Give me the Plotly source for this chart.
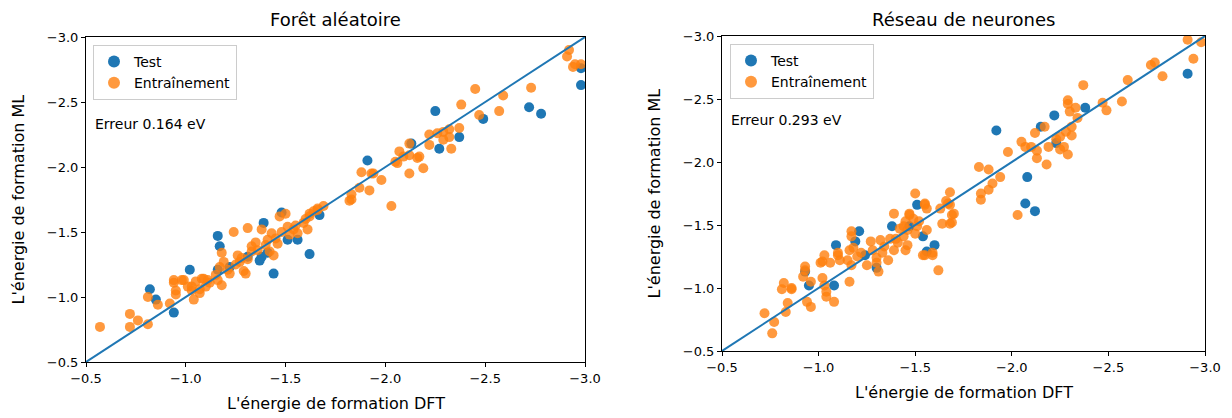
import plotly.graph_objects as go

# ---------------- data ----------------
rf_test_dft = [-2.25, -2.49, -2.72, -2.78, -2.98, -2.98, -2.37, -2.27, -2.13, -1.91, -1.48, -1.39, -1.16, -1.17,
               -1.62, -1.44, -1.02, -0.82, -0.94, -1.38, -1.51, -1.56, -1.16, -1.37, -0.85, -1.67, -1.22, -1.31, -1.41]
rf_test_ml = [-2.43, -2.37, -2.46, -2.41, -2.76, -2.63, -2.23, -2.14, -2.18, -2.05, -1.65, -1.57, -1.47, -1.39,
              -1.33, -1.18, -1.21, -1.06, -0.88, -1.31, -1.44, -1.44, -1.21, -1.28, -0.98, -1.63, -1.23, -1.31, -1.34]

rf_train_dft = [-0.57, -0.72, -0.72, -0.76, -0.81, -0.81, -0.86, -0.92, -0.94, -0.95, -0.98, -1.01, -1.04, -1.03,
                -1.07, -1.08, -1.11, -1.16, -1.18, -1.17, -1.19, -1.18, -1.21, -1.24, -1.26, -1.29, -1.31, -1.27,
                -1.31, -1.33, -1.36, -1.38, -1.41, -1.43, -1.46, -1.47, -1.50, -1.51, -1.54, -1.56, -1.59, -1.61,
                -1.64, -1.66, -1.69, -1.62, -1.44,
                -2.12, -2.07, -2.12, -2.16, -2.06, -2.12, -1.88, -1.93, -1.98, -1.92, -1.87, -1.83, -1.82, -2.03,
                -1.66, -1.62, -1.30, -0.94, -0.99, -1.09, -1.12, -1.03, -1.07, -0.95,
                -2.45, -2.73, -2.59, -2.38, -2.57, -2.47, -2.92, -2.91, -2.95, -2.98, -2.94, -2.37, -2.32, -2.29,
                -2.26, -2.22, -2.32, -2.29, -2.22, -2.33, -2.09, -2.17, -2.19, -2.05, -1.94, -1.83,
                -1.35, -1.40, -1.45, -1.48, -1.52, -1.33, -1.28, -1.25, -1.22, -1.42, -1.55, -1.60, -1.15, -1.10, -1.05]
rf_train_ml = [-0.77, -0.87, -0.77, -0.82, -0.79, -1.00, -0.94, -0.95, -1.13, -1.02, -1.13, -1.08, -0.98, -1.05,
               -1.03, -1.14, -1.13, -1.13, -1.09, -1.23, -1.27, -1.34, -1.21, -1.50, -1.32, -1.20, -1.53, -1.27,
               -1.29, -1.39, -1.36, -1.52, -1.44, -1.49, -1.41, -1.62, -1.64, -1.54, -1.52, -1.49, -1.57, -1.52,
               -1.66, -1.68, -1.70, -1.62, -1.32,
               -2.18, -2.12, -2.09, -2.07, -2.03, -1.95, -1.96, -1.95, -1.90, -1.82, -1.84, -1.79, -1.74, -1.70,
               -1.67, -1.64, -1.18, -1.11, -1.13, -1.14, -1.11, -1.08, -1.06, -1.05,
               -2.60, -2.61, -2.55, -2.48, -2.43, -2.40, -2.90, -2.85, -2.79, -2.79, -2.77, -2.30, -2.29, -2.27,
               -2.26, -2.25, -2.23, -2.21, -2.17, -2.14, -2.08, -2.08, -1.99, -2.04, -1.95, -1.75,
               -1.42, -1.40, -1.45, -1.50, -1.48, -1.35, -1.30, -1.25, -1.18, -1.35, -1.55, -1.60, -1.17, -1.08, -1.12]

nn_test_dft = [-1.92, -2.22, -2.15, -2.38, -2.91, -2.08, -2.23, -2.07, -2.12, -1.51, -1.38, -1.54, -1.60, -1.56,
               -1.21, -1.19, -1.09, -1.24, -0.93, -0.95, -1.08, -1.30, -1.47]
nn_test_ml = [-2.25, -2.37, -2.28, -2.43, -2.70, -1.88, -2.15, -1.67, -1.61, -1.66, -1.49, -1.41, -1.34, -1.29,
              -1.45, -1.37, -1.34, -1.26, -1.13, -1.02, -1.02, -1.16, -1.49]

nn_train_dft = [-2.91, -2.98, -2.94, -2.72, -2.74, -2.78, -2.60, -2.37, -2.57, -2.49, -2.47, -2.29, -2.29, -2.30,
                -2.33, -2.34, -2.31, -2.28, -2.31, -2.25, -2.23, -2.27, -2.29, -2.25, -2.19, -2.17, -2.12, -2.05,
                -2.07, -2.10, -2.13, -2.13, -2.18, -1.98, -1.83, -1.88, -1.94, -1.90, -1.88, -1.84, -1.84, -2.03,
                -1.50, -1.68,
                -1.55, -1.56, -1.66, -1.68, -1.70, -1.64, -1.69, -1.39, -1.47, -1.49, -1.45, -1.51, -1.46, -1.50,
                -1.42, -1.44, -1.41, -1.37, -1.39, -1.34, -1.32, -1.33, -1.30, -1.36, -1.45, -1.28, -1.27, -1.22,
                -1.25, -1.31, -1.30, -1.18, -1.17, -1.17, -1.15, -1.10, -1.11, -1.06, -1.02, -1.01, -1.03, -0.93,
                -0.92, -0.96, -1.02, -1.16, -1.62, -1.55, -1.59, -0.86, -1.04,
                -0.72, -0.77, -0.76, -0.83, -0.82, -0.81, -0.86, -0.84, -0.94, -0.96, -0.93, -1.03, -1.04, -1.08,
                -1.10, -1.16, -1.20, -1.17, -1.40, -1.46, -1.44, -1.47, -1.52, -1.55, -1.56, -1.68, -1.69, -1.67,
                -1.63, -1.54, -1.59]
nn_train_ml = [-2.97, -2.95, -2.82, -2.77, -2.79, -2.68, -2.65, -2.61, -2.48, -2.41, -2.47, -2.49, -2.46, -2.40,
               -2.43, -2.35, -2.28, -2.24, -2.21, -2.20, -2.18, -2.12, -2.06, -2.10, -2.12, -2.28, -2.23, -2.16,
               -2.12, -2.12, -2.09, -2.03, -1.98, -2.08, -1.96, -1.94, -1.88, -1.83, -1.78, -1.75, -1.70, -1.58,
               -1.75, -1.76,
               -1.67, -1.63, -1.69, -1.66, -1.59, -1.51, -1.52, -1.59, -1.59, -1.55, -1.53, -1.49, -1.46, -1.43,
               -1.47, -1.41, -1.36, -1.39, -1.30, -1.33, -1.38, -1.28, -1.24, -1.22, -1.30, -1.30, -1.37, -1.28,
               -1.18, -1.13, -1.20, -1.32, -1.41, -1.45, -1.22, -1.28, -1.22, -1.20, -1.21, -1.20, -1.26, -1.17,
               -1.09, -1.05, -1.08, -1.05, -1.14, -1.26, -1.28, -1.00, -0.97,
               -0.80, -0.73, -0.64, -0.81, -1.04, -0.99, -0.99, -0.88, -0.89, -0.85, -1.14, -1.02, -0.93, -0.89,
               -1.26, -1.30, -1.25, -1.18, -1.39, -1.34, -1.49, -1.58, -1.53, -1.66, -1.46, -1.51, -1.58, -1.67,
               -1.63, -1.26, -1.26]

diag = [-0.5, -3.0]
tick_vals = [-0.5, -1.0, -1.5, -2.0, -2.5, -3.0]
tick_text = ["\u22120.5", "\u22121.0", "\u22121.5", "\u22122.0", "\u22122.5", "\u22123.0"]
titles = ["Forêt aléatoire", "Réseau de neurones"]
errors = ["Erreur 0.164 eV", "Erreur 0.293 eV"]
xlabel = "L'énergie de formation DFT"
ylabel = "L'énergie de formation ML"

BLUE = "#1f77b4"
ORANGE = "#ff7f0e"
FONT = "DejaVu Sans"

fig = go.Figure()

panels = [
    (rf_test_dft, rf_test_ml, rf_train_dft, rf_train_ml, "x", "y", "legend"),
    (nn_test_dft, nn_test_ml, nn_train_dft, nn_train_ml, "x2", "y2", "legend2"),
]
for tdx, tdy, trx, try_, xa, ya, lg in panels:
    fig.add_trace(go.Scatter(x=tdx, y=tdy, mode="markers", name="Test",
                             marker=dict(color=BLUE, size=10, line=dict(width=0)),
                             xaxis=xa, yaxis=ya, legend=lg))
    fig.add_trace(go.Scatter(x=trx, y=try_, mode="markers", name="Entraînement",
                             marker=dict(color=ORANGE, size=10, opacity=0.8, line=dict(width=0)),
                             xaxis=xa, yaxis=ya, legend=lg))
    fig.add_trace(go.Scatter(x=diag, y=diag, mode="lines", line=dict(color=BLUE, width=2),
                             showlegend=False, xaxis=xa, yaxis=ya, hoverinfo="skip"))

axis_common = dict(range=[-0.5, -3.0], tickvals=tick_vals, ticktext=tick_text, automargin=False,
                   showline=True, mirror=True, linecolor="black", linewidth=1,
                   ticks="outside", ticklen=4, tickcolor="black", showgrid=False, zeroline=False,
                   tickfont=dict(family=FONT, size=13, color="black"))

# page body has an 8px margin: the figure is drawn at (8, 8) in the window
OFF = 8
W, H = 1232 - OFF, 418 - OFF
L = dict(x0=86, x1=585, y0=37, y1=362)
R = dict(x0=722, x1=1205, y0=36, y1=351)

def px(v):
    return (v - OFF) / W

def py(v):
    return 1 - (v - OFF) / H

def dom_x(p):
    return [px(p["x0"]), px(p["x1"])]

def dom_y(p):
    return [py(p["y1"]), py(p["y0"])]

legend_common = dict(font=dict(family=FONT, size=14, color="black"), bgcolor="rgba(255,255,255,0.8)",
                     bordercolor="#cccccc", borderwidth=1, xanchor="left", yanchor="top",
                     itemsizing="constant", tracegroupgap=0)

fig.update_layout(
    template="none",
    width=W, height=H, margin=dict(l=0, r=0, t=0, b=0, autoexpand=False),
    paper_bgcolor="white", plot_bgcolor="white",
    font=dict(family=FONT, color="black"),
    xaxis=dict(domain=dom_x(L), anchor="y", **axis_common),
    yaxis=dict(domain=dom_y(L), anchor="x", **axis_common),
    xaxis2=dict(domain=dom_x(R), anchor="y2", **axis_common),
    yaxis2=dict(domain=dom_y(R), anchor="x2", **axis_common),
    legend=dict(x=px(93), y=py(45), **legend_common),
    legend2=dict(x=px(730), y=py(44), **legend_common),
)

annos = []
for p, t, e, xr, yr in [(L, titles[0], errors[0], "x", "y"), (R, titles[1], errors[1], "x2", "y2")]:
    cxp = (p["x0"] + p["x1"]) / 2
    cyp = (p["y0"] + p["y1"]) / 2
    annos.append(dict(text=t, x=px(cxp), y=1.0, xref="paper", yref="paper",
                      showarrow=False, xanchor="center", yanchor="top", borderpad=0,
                      font=dict(family=FONT, size=18, color="black")))
    annos.append(dict(text=xlabel, x=px(cxp), y=py(p["y1"] + 41), xref="paper", yref="paper",
                      showarrow=False, xanchor="center", yanchor="middle",
                      font=dict(family=FONT, size=16, color="black")))
    annos.append(dict(text=ylabel, x=px(p["x0"] - 68), y=py(cyp), xref="paper", yref="paper",
                      showarrow=False, xanchor="center", yanchor="middle", textangle=-90,
                      font=dict(family=FONT, size=16, color="black")))
    annos.append(dict(text=e, x=-0.535, y=-2.33, xref=xr, yref=yr, showarrow=False,
                      xanchor="left", yanchor="middle",
                      font=dict(family=FONT, size=14, color="black")))
fig.update_layout(annotations=annos)

fig.write_html("out.html")
